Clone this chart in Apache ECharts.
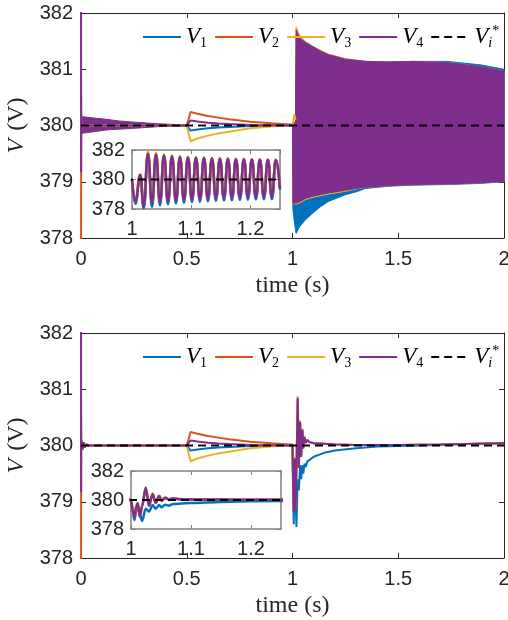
<!DOCTYPE html>
<html>
<head>
<meta charset="utf-8">
<script src="https://cdn.jsdelivr.net/npm/echarts@6.0.0/dist/echarts.min.js"></script>
<style>
html,body{margin:0;padding:0;background:#ffffff;}
#chart{width:508px;height:620px;}
</style>
</head>
<body>
<div id="chart"></div>
<script>
// ---------- ticks / legend ----------
const xTicks = [0, 0.5, 1, 1.5, 2];
const yTicks = [378, 379, 380, 381, 382];
const insetXTicks = [1, 1.1, 1.2];
const insetXMax = 1.25;
const insetYTicks = [378, 380, 382];
const legendNames = ['V1', 'V2', 'V3', 'V4', 'Vref'];
const legendLabels = ['{v|V}{s|1}', '{v|V}{s|2}', '{v|V}{s|3}', '{v|V}{s|4}', '{v|V}{si|i}{p|*}'];
const xName = 'time (s)';

// ---------- reference ----------
const refT = [0, 2];
const refV = [380, 380];

// ---------- top panel: lines up to the load step ----------
const topT  = [0, 0.0005, 0.001, 0.5, 0.518, 0.55, 0.6, 0.65, 0.7, 0.8, 0.9, 0.99, 1.0, 1.009, 1.014];
const topV1 = [381, 380.5, 380.0, 380.0, 379.91, 379.93, 379.95, 379.965, 379.975, 379.99, 379.995, 380.0, 380.0, 380.0, 380.0];
const topV2 = [376, 378.5, 380.0, 380.0, 380.24, 380.21, 380.17, 380.14, 380.11, 380.065, 380.04, 380.02, 380.02, 380.02, 380.02];
const topV3 = [381, 380.5, 380.0, 380.0, 379.72, 379.77, 379.82, 379.86, 379.89, 379.95, 379.98, 380.0, 380.0, 380.2, 380.1];
const topV4 = [384, 379.17, 380.0, 380.0, 380.09, 380.07, 380.05, 380.035, 380.025, 380.01, 380.005, 380.0, 380.0, 380.0, 380.0];

// top panel: envelope of the initial small oscillation
const iniT  = [0.001, 0.02, 0.07, 0.12, 0.18, 0.25, 0.31, 0.37, 0.43, 0.5];
const iniHi = [380.16, 380.15, 380.13, 380.11, 380.08, 380.06, 380.045, 380.03, 380.02, 380.01];
const iniLo = [379.86, 379.87, 379.895, 379.92, 379.935, 379.95, 379.965, 379.98, 379.99, 379.995];

// top panel: envelopes of the sustained oscillation after t = 1 s
const envT    = [1.0, 1.002, 1.014, 1.017, 1.033, 1.06, 1.092, 1.13, 1.17, 1.25, 1.3, 1.345, 1.45, 1.57, 1.73, 1.886, 2.0];
const envV1Hi = [380.0, 380.05, 380.05, 381.6, 381.5, 381.45, 381.4, 381.32, 381.25, 381.17, 381.15, 381.14, 381.13, 381.14, 381.14, 381.08, 381.0];
const envV1Lo = [380.0, 378.5, 378.15, 378.08, 378.2, 378.32, 378.43, 378.55, 378.65, 378.77, 378.82, 378.88, 378.92, 378.94, 378.95, 378.97, 379.0];
const envV3Hi = [380.0, 380.05, 380.05, 381.76, 381.62, 381.5, 381.42, 381.34, 381.27, 381.19, 381.16, 381.14, 381.13, 381.14, 381.12, 381.05, 380.97];
const envV3Lo = [380.0, 378.62, 378.6, 378.6, 378.62, 378.68, 378.72, 378.75, 378.78, 378.83, 378.87, 378.9, 378.93, 378.95, 378.96, 378.98, 379.01];
const envV4Hi = [380.0, 380.05, 380.05, 381.7, 381.56, 381.48, 381.41, 381.33, 381.26, 381.18, 381.16, 381.14, 381.13, 381.14, 381.12, 381.05, 380.97];
const envV4Lo = [380.0, 378.62, 378.62, 378.62, 378.64, 378.7, 378.74, 378.77, 378.8, 378.85, 378.88, 378.9, 378.93, 378.95, 378.96, 378.98, 379.01];

// top inset: peaks and troughs 1.0 - 1.25 s
const insT  = [1.0, 1.0056, 1.014, 1.0197, 1.027, 1.0338, 1.0405, 1.0473, 1.054, 1.0608, 1.0675, 1.0743, 1.081, 1.0878, 1.0945, 1.1013, 1.108, 1.1148, 1.1215, 1.1283, 1.135, 1.1418, 1.1485, 1.1553, 1.162, 1.1688, 1.1755, 1.1823, 1.189, 1.1958, 1.2025, 1.2093, 1.216, 1.2228, 1.2295, 1.2363, 1.243, 1.25];
const insV1 = [380.0, 378.35, 380.2, 378.05, 381.6, 378.15, 381.6, 378.25, 381.55, 378.32, 381.5, 378.38, 381.47, 378.43, 381.44, 378.47, 381.42, 378.5, 381.4, 378.53, 381.38, 378.56, 381.37, 378.58, 381.36, 378.6, 381.35, 378.62, 381.34, 378.64, 381.33, 378.65, 381.32, 378.66, 381.31, 378.67, 381.3, 379.3];
const insV2 = [380.0, 378.5, 380.28, 378.25, 381.72, 378.42, 381.68, 378.5, 381.6, 378.56, 381.55, 378.6, 381.52, 378.63, 381.49, 378.66, 381.46, 378.68, 381.44, 378.7, 381.42, 378.72, 381.4, 378.74, 381.39, 378.76, 381.37, 378.78, 381.36, 378.79, 381.35, 378.8, 381.34, 378.81, 381.33, 378.82, 381.32, 379.4];
const insV3 = [380.0, 378.6, 380.35, 378.3, 381.9, 378.45, 381.8, 378.55, 381.7, 378.6, 381.64, 378.63, 381.6, 378.66, 381.56, 378.68, 381.53, 378.7, 381.5, 378.72, 381.48, 378.74, 381.46, 378.76, 381.44, 378.78, 381.42, 378.8, 381.4, 378.81, 381.39, 378.82, 381.38, 378.83, 381.37, 378.84, 381.36, 379.45];
const insV4 = [380.0, 378.55, 380.3, 378.2, 381.75, 378.4, 381.7, 378.5, 381.62, 378.55, 381.57, 378.6, 381.53, 378.62, 381.5, 378.65, 381.47, 378.68, 381.45, 378.7, 381.43, 378.72, 381.41, 378.74, 381.4, 378.76, 381.38, 378.78, 381.37, 378.79, 381.36, 378.8, 381.35, 378.81, 381.34, 378.82, 381.33, 379.4];

// ---------- bottom panel (main + inset) ----------
const botT  = [0, 0.0005, 0.001, 0.004, 0.008, 0.012, 0.018, 0.025, 0.035,
               0.5, 0.518, 0.55, 0.6, 0.65, 0.7, 0.8, 0.9, 0.99,
               1.0, 1.0028, 1.0057, 1.0085, 1.0113, 1.0147, 1.0186, 1.0245, 1.030, 1.036, 1.041, 1.047, 1.051, 1.057, 1.063, 1.07, 1.08, 1.1,
               1.15, 1.2, 1.3, 1.4, 1.5, 1.7, 2.0];
const botV1 = [381, 380.5, 380.1, 380.08, 379.93, 380.05, 379.97, 380.02, 380.0,
               380.0, 379.91, 379.93, 379.95, 379.965, 379.975, 379.99, 379.995, 380.0,
               380.0, 379.2, 378.6, 379.2, 379.5, 379.0, 378.55, 379.4, 379.2, 379.65, 379.4, 379.65, 379.5, 379.68, 379.62, 379.72, 379.74, 379.8,
               379.87, 379.91, 379.95, 379.98, 379.99, 380.01, 380.05];
const botV2 = [376, 378.5, 380.1, 380.1, 379.93, 380.06, 379.97, 380.02, 380.0,
               380.0, 380.24, 380.21, 380.17, 380.14, 380.11, 380.065, 380.04, 380.02,
               380.02, 379.35, 378.85, 379.5, 379.77, 378.87, 379.6, 380.8, 379.6, 380.4, 379.8, 380.27, 379.95, 380.14, 380.05, 380.1, 380.06, 380.04,
               380.03, 380.02, 380.01, 380.01, 380.01, 380.02, 380.04];
const botV3 = [381, 380.5, 380.1, 380.1, 379.93, 380.06, 379.97, 380.02, 380.0,
               380.0, 379.72, 379.77, 379.82, 379.86, 379.89, 379.95, 379.98, 380.0,
               380.0, 379.4, 378.9, 379.55, 379.8, 378.9, 379.62, 380.88, 379.65, 380.45, 379.82, 380.3, 379.96, 380.17, 380.06, 380.1, 380.07, 380.04,
               380.03, 380.02, 380.01, 380.01, 380.01, 380.02, 380.04];
const botV4 = [384, 379.17, 380.1, 380.1, 379.93, 380.06, 379.97, 380.02, 380.0,
               380.0, 380.09, 380.07, 380.05, 380.035, 380.025, 380.01, 380.005, 380.0,
               380.0, 379.3, 378.82, 379.5, 379.77, 378.85, 379.6, 380.85, 379.6, 380.42, 379.8, 380.28, 379.95, 380.15, 380.05, 380.1, 380.06, 380.04,
               380.03, 380.02, 380.01, 380.01, 380.01, 380.02, 380.04];

// ---------- styling ----------
const AX = '#262626';
const INB = '#808080';
const COL = {V1: '#0072BD', V2: '#D95319', V3: '#EDB120', V4: '#7E2F8E', Vref: '#000000'};
const pts = (t, v) => t.map((x, i) => [x, v[i]]);

const grid = [
  {left: 81, top: 13, width: 423, height: 225},
  {left: 132, top: 150, width: 148, height: 59},
  {left: 81, top: 333, width: 423, height: 225},
  {left: 131, top: 471, width: 150, height: 58}
].map(g => Object.assign({show: false, containLabel: false, outerBoundsMode: 'none'}, g));

function axBase(color, lw, tickLen, showLabel, margin, hideMax) {
  return {
    axisLine: {show: true, onZero: false, lineStyle: {color: color, width: lw}},
    axisTick: {show: true, inside: true, length: tickLen, lineStyle: {color: color, width: 1}},
    axisLabel: {show: showLabel, margin: margin, fontFamily: 'Liberation Sans', fontSize: 20, color: AX,
                showMaxLabel: !hideMax, showMinLabel: true},
    splitLine: {show: false}
  };
}

const xAxis = [];
const yAxis = [];
function addAxes(gMain, gIns) {
  xAxis.push(Object.assign({type: 'value', gridIndex: gMain, position: 'bottom',
    min: xTicks[0], max: xTicks[xTicks.length - 1], interval: xTicks[1] - xTicks[0],
    name: xName, nameLocation: 'middle', nameGap: 36,
    nameTextStyle: {fontFamily: 'Liberation Serif', fontSize: 24, color: AX}}, axBase(AX, 1, 5, true, 11, false)));
  xAxis.push(Object.assign({type: 'value', gridIndex: gMain, position: 'top',
    min: xTicks[0], max: xTicks[xTicks.length - 1], interval: xTicks[1] - xTicks[0]}, axBase(AX, 1, 5, false, 0, false)));
  xAxis.push(Object.assign({type: 'value', gridIndex: gIns, position: 'bottom',
    min: insetXTicks[0], max: insetXMax, interval: +(insetXTicks[1] - insetXTicks[0]).toFixed(3)}, axBase(INB, 1.5, 4, true, 10, true)));
  xAxis.push(Object.assign({type: 'value', gridIndex: gIns, position: 'top',
    min: insetXTicks[0], max: insetXMax, interval: +(insetXTicks[1] - insetXTicks[0]).toFixed(3)}, axBase(INB, 1.5, 4, false, 0, true)));

  yAxis.push(Object.assign({type: 'value', gridIndex: gMain, position: 'left',
    min: yTicks[0], max: yTicks[yTicks.length - 1], interval: yTicks[1] - yTicks[0],
    name: '{i|V}{n|(V)}', nameLocation: 'middle', nameGap: 47, nameRotate: 90,
    nameTextStyle: {color: AX, rich: {
      i: {fontFamily: 'Liberation Serif', fontStyle: 'italic', fontSize: 24, color: AX, padding: [0, 8, 0, 0]},
      n: {fontFamily: 'Liberation Serif', fontSize: 24, color: AX}}}}, axBase(AX, 1, 5, true, 8, false)));
  yAxis.push(Object.assign({type: 'value', gridIndex: gMain, position: 'right',
    min: yTicks[0], max: yTicks[yTicks.length - 1], interval: yTicks[1] - yTicks[0]}, axBase(AX, 1, 5, false, 0, false)));
  yAxis.push(Object.assign({type: 'value', gridIndex: gIns, position: 'left',
    min: insetYTicks[0], max: insetYTicks[insetYTicks.length - 1], interval: insetYTicks[1] - insetYTicks[0]}, axBase(INB, 1.5, 4, true, 7, false)));
  yAxis.push(Object.assign({type: 'value', gridIndex: gIns, position: 'right',
    min: insetYTicks[0], max: insetYTicks[insetYTicks.length - 1], interval: insetYTicks[1] - insetYTicks[0]}, axBase(INB, 1.5, 4, false, 0, false)));
}
addAxes(0, 1);
addAxes(2, 3);

function lineS(name, t, v, ai, width, smooth, dashed) {
  return {type: 'line', name: name, xAxisIndex: ai, yAxisIndex: ai, data: pts(t, v),
    symbol: 'none', showSymbol: false, smooth: smooth || false, smoothMonotone: 'x',
    lineStyle: {color: COL[name], width: width, type: dashed ? [8, 5] : 'solid'},
    itemStyle: {color: COL[name]}, silent: true, animation: false, clip: true,
    emphasis: {disabled: true}};
}
function bandS(t, hi, lo, color, ai) {
  return {type: 'custom', xAxisIndex: ai, yAxisIndex: ai, silent: true, animation: false,
    data: [[t[0], lo[0]]],
    renderItem: function (params, api) {
      const up = t.map((x, i) => api.coord([x, hi[i]]));
      const dn = t.map((x, i) => api.coord([x, lo[i]])).reverse();
      return {type: 'polygon', shape: {points: up.concat(dn)},
              style: {fill: color, stroke: color, lineWidth: 1}};
    }};
}

const series = [
  // top main
  lineS('V1', topT, topV1, 0, 2), lineS('V2', topT, topV2, 0, 2),
  lineS('V3', topT, topV3, 0, 2), lineS('V4', topT, topV4, 0, 2),
  bandS(iniT, iniHi, iniLo, COL.V4, 0),
  bandS(envT, envV1Hi, envV1Lo, COL.V1, 0),
  bandS(envT, envV3Hi, envV3Lo, COL.V3, 0),
  bandS(envT, envV4Hi, envV4Lo, COL.V4, 0),
  lineS('Vref', refT, refV, 0, 2, false, true),
  // top inset
  lineS('V1', insT, insV1, 1, 2.5, 0.5), lineS('V2', insT, insV2, 1, 2.5, 0.5),
  lineS('V3', insT, insV3, 1, 2.5, 0.5), lineS('V4', insT, insV4, 1, 2.5, 0.5),
  lineS('Vref', refT, refV, 1, 2, false, true),
  // bottom main
  lineS('V1', botT, botV1, 2, 2), lineS('V2', botT, botV2, 2, 2),
  lineS('V3', botT, botV3, 2, 2), lineS('V4', botT, botV4, 2, 2),
  lineS('Vref', refT, refV, 2, 2, false, true),
  // bottom inset
  lineS('V1', botT, botV1, 3, 2.5, 0.3), lineS('V2', botT, botV2, 3, 2.5, 0.3),
  lineS('V3', botT, botV3, 3, 2.5, 0.3), lineS('V4', botT, botV4, 3, 2.5, 0.3),
  lineS('Vref', refT, refV, 3, 2, false, true)
];
// yAxis/xAxis indices: panel axes were pushed 4 per panel; map ai -> axis index
series.forEach(s => {
  const map = [0, 2, 4, 6];
  s.xAxisIndex = map[s.xAxisIndex];
  s.yAxisIndex = map[s.yAxisIndex];
});

const legendRich = {
  v: {fontFamily: 'Liberation Serif', fontStyle: 'italic', fontSize: 23, lineHeight: 26, verticalAlign: 'middle', color: '#000'},
  s: {fontFamily: 'Liberation Serif', fontSize: 14, lineHeight: 18, verticalAlign: 'bottom', color: '#000'},
  si: {fontFamily: 'Liberation Serif', fontStyle: 'italic', fontSize: 14, lineHeight: 18, verticalAlign: 'bottom', color: '#000'},
  p: {fontFamily: 'Liberation Serif', fontSize: 14, lineHeight: 16, verticalAlign: 'top', color: '#000'}
};
function mkLegend(top) {
  return {top: top, left: 142, padding: 0, itemGap: 7, itemWidth: 38, itemHeight: 14,
    selectedMode: false, data: legendNames, itemStyle: {opacity: 0},
    formatter: n => legendLabels[legendNames.indexOf(n)],
    textStyle: {color: '#000', fontFamily: 'Liberation Serif', fontSize: 23, rich: legendRich}};
}

const chart = echarts.init(document.getElementById('chart'), null, {renderer: 'canvas'});
chart.setOption({
  backgroundColor: '#ffffff',
  animation: false,
  grid: grid,
  xAxis: xAxis,
  yAxis: yAxis,
  legend: [mkLegend(24), mkLegend(344)],
  series: series
});
</script>
</body>
</html>
